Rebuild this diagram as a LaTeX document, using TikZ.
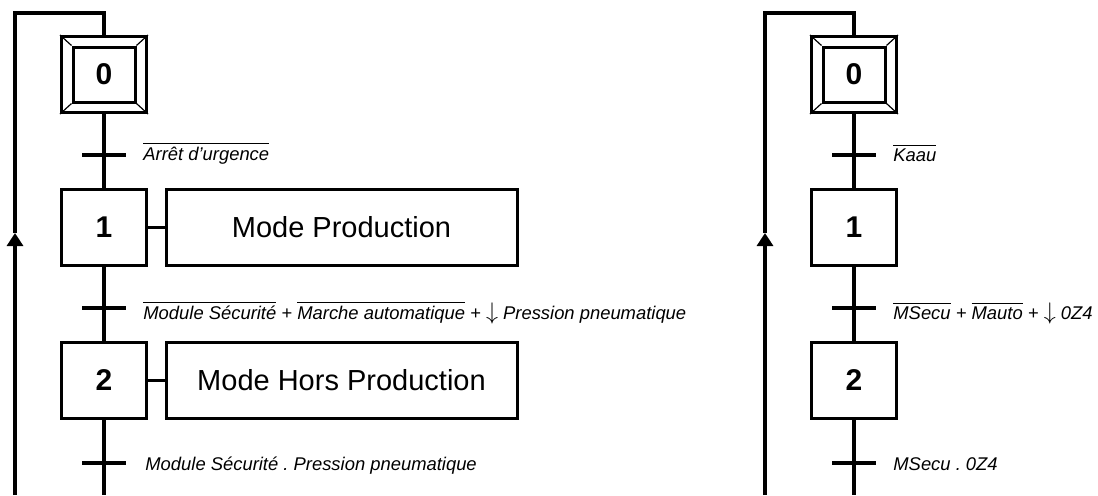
\documentclass[tikz,border=0pt]{standalone}
\usepackage{fontspec}
\setmainfont{Liberation Sans}
\usetikzlibrary{arrows.meta}
\frenchspacing
\tikzset{
  etape/.style={draw, line width=1.5pt, minimum width=42.5pt, minimum height=38pt, inner sep=0pt, font=\bfseries\fontsize{15}{15}\selectfont},
  etapeint/.style={draw, line width=1.5pt, minimum width=31pt, minimum height=27.5pt, inner sep=0pt, font=\bfseries\fontsize{15}{15}\selectfont},
  action/.style={draw, line width=1.5pt, minimum width=175.5pt, minimum height=38pt, inner sep=0pt, font=\fontsize{14.5}{14.5}\selectfont},
  trans/.style={fill=black, minimum width=22pt, minimum height=1.9pt, inner sep=0pt},
  recep/.style={anchor=base west, inner sep=0pt, font=\itshape\fontsize{9.2}{10}\selectfont},
  liaison/.style={draw, line width=1.6pt},
}
\newcommand{\nonrecep}[1]{$\overline{\mbox{#1}}$}
\newcommand{\frontdesc}{{\upshape\large$\downarrow$}}
\begin{document}
\begin{tikzpicture}[x=0.5pt, y=-0.5pt]
\useasboundingbox (0,0) rectangle (1098,495);

\node[etape] (g0) at (104,74.5) {};
\node[etapeint] (g0i) at (104,74.5) {0};
\node[etape] (g1) at (104,227.5) {1};
\node[etape] (g2) at (104,380.5) {2};
\node[action] (a1) at (341.5,227.5) {Mode Production};
\node[action] (a2) at (341.5,380.5) {Mode Hors Production};
\node[trans] (t0) at (104,155) {};
\node[trans] (t1) at (104,308) {};
\node[trans] (t2) at (104,463) {};
\node[recep] (r0) at (143,160) {\nonrecep{Arrêt d’urgence}};
\node[recep] (r1) at (143,319) {\nonrecep{Module Sécurité} + \nonrecep{Marche automatique} + \frontdesc\ Pression pneumatique};
\node[recep] (r2) at (145,470) {Module Sécurité . Pression pneumatique};
\coordinate (f0) at (104,495);
\coordinate (b0) at (15,495);
\coordinate (m0) at (15,233);
\coordinate (h0) at (15,13);

\foreach \c in {north west,north east,south west,south east}
  \path[draw,line width=0.6pt] (g0.\c) -- (g0i.\c);
\path[liaison] (g0) -- (g1);
\path[liaison] (g1) -- (g2);
\path[liaison] (g2.south) -- (f0);
\path[liaison] (g1) -- (a1);
\path[liaison] (g2) -- (a2);
\path[liaison,-{Triangle[length=6.5pt,width=8pt]}] (b0) -- (m0);
\path[liaison] (m0) -- (h0) -| (g0.north);

\node[etape] (G0) at (854,74.5) {};
\node[etapeint] (G0i) at (854,74.5) {0};
\node[etape] (G1) at (854,227.5) {1};
\node[etape] (G2) at (854,380.5) {2};
\node[trans] (T0) at (854,155) {};
\node[trans] (T1) at (854,308) {};
\node[trans] (T2) at (854,463) {};
\node[recep] (R0) at (893,161) {\nonrecep{Kaau}};
\node[recep] (R1) at (893,319) {\nonrecep{MSecu} + \nonrecep{Mauto} + \frontdesc\ 0Z4};
\node[recep] (R2) at (893,470) {MSecu . 0Z4};
\coordinate (F0) at (854,495);
\coordinate (B0) at (765,495);
\coordinate (M0) at (765,233);
\coordinate (H0) at (765,13);

\foreach \c in {north west,north east,south west,south east}
  \path[draw,line width=0.6pt] (G0.\c) -- (G0i.\c);
\path[liaison] (G0) -- (G1);
\path[liaison] (G1) -- (G2);
\path[liaison] (G2.south) -- (F0);
\path[liaison,-{Triangle[length=6.5pt,width=8pt]}] (B0) -- (M0);
\path[liaison] (M0) -- (H0) -| (G0.north);
\end{tikzpicture}
\end{document}
